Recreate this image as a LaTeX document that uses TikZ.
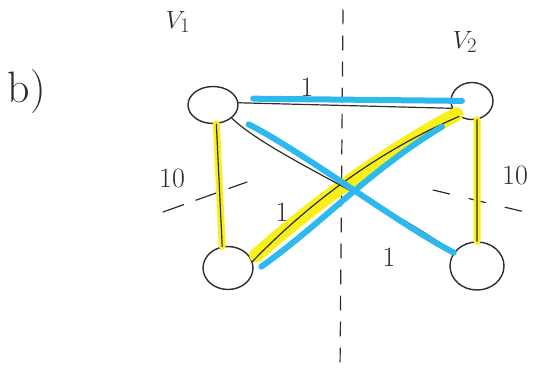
\documentclass[tikz,border=0pt]{standalone}
\usepackage{amsmath}
\usepackage{tikz}
\usetikzlibrary{shapes,shapes.geometric,calc,positioning}
\definecolor{ink}{RGB}{45,45,45}
\definecolor{marker}{RGB}{250,240,25}
\definecolor{pen}{RGB}{45,185,235}
\tikzset{vertex/.style={draw=ink,ellipse,line width=1.4pt,inner sep=0pt}}
\tikzset{thin edge/.style={draw=ink,line width=1.2pt}}
\tikzset{hilite/.style={draw=marker,line width=7pt}}
\tikzset{chosen/.style={draw=pen,line width=6pt}}
\tikzset{cutline/.style={draw=ink,line width=1.2pt}}
\tikzset{lbl/.style={text=ink,inner sep=0pt,font=\fontsize{28}{30}\selectfont}}

\begin{document}
\begin{tikzpicture}[x=1pt, y=-1pt, line cap=round, line join=round]
\useasboundingbox (0,0) rectangle (536,374);
\node[vertex, minimum width=50pt, minimum height=37pt] (v1) at (213,105) {};
\node[vertex, minimum width=42pt, minimum height=37pt] (v2) at (472,101) {};
\node[vertex, minimum width=50pt, minimum height=43pt] (v3) at (228,268) {};
\node[vertex, minimum width=54pt, minimum height=48pt] (v4) at (477,266) {};
% cut lines
\coordinate (top) at (343,10);
\coordinate (bot) at (340,372);
\coordinate (la) at (163,212);
\coordinate (lb) at (247,182);
\coordinate (ra) at (433,190);
\coordinate (rb) at (525,212);
\path[cutline, dash pattern=on 14pt off 12pt] (top) -- (bot);
\path[cutline, dash pattern=on 22pt off 13pt] (la) -- (lb);
\path[cutline, dash pattern=on 17pt off 20pt] (ra) -- (rb);
% marker
\path[hilite] (v1.-80) -- (v3.105);
\path[hilite] (v2.-75) -- (v4.north);
\path[hilite, line width=14pt, shorten <=6pt] (v3.20) .. controls (314,204) and (383,154) .. (v2.-140);
% edges
\path[thin edge] (v1.5) edge (v2.200)
	(v1.-80) edge (v3.105)
	(v2.-75) edge (v4.north);
\path[thin edge] (v1.-35) .. controls (270,155) and (390,205) .. (v4.150);
\path[thin edge] (v3.15) .. controls (312,200) and (381,150) .. (v2.-130);
% chosen edges
\path[chosen, shorten <=16pt, shorten >=10pt] (v1.15) -- (v2.center);
\path[chosen, shorten <=17pt] (v1.-30) .. controls (300,150) and (400,225) .. (v4.150);
\path[chosen, shorten <=10pt, shorten >=20pt] (v3.-10) .. controls (320,225) and (370,170) .. (v2.-130);
% labels
\node[lbl] (w12) at (307,87) {1};
\node[lbl] (w13) at (172,178) {10};
\node[lbl] (w24) at (515,175) {10};
\node[lbl] (w32) at (282,212) {1};
\node[lbl] (w14) at (389,257) {1};
\node[lbl, font=\fontsize{28}{30}\selectfont] (n1) at (178,22) {$V_1$};
\node[lbl, font=\fontsize{28}{30}\selectfont] (n2) at (465,42) {$V_2$};
\node[lbl, font=\fontsize{44}{48}\selectfont] (part) at (27,92) {b)};
\end{tikzpicture}
\end{document}
